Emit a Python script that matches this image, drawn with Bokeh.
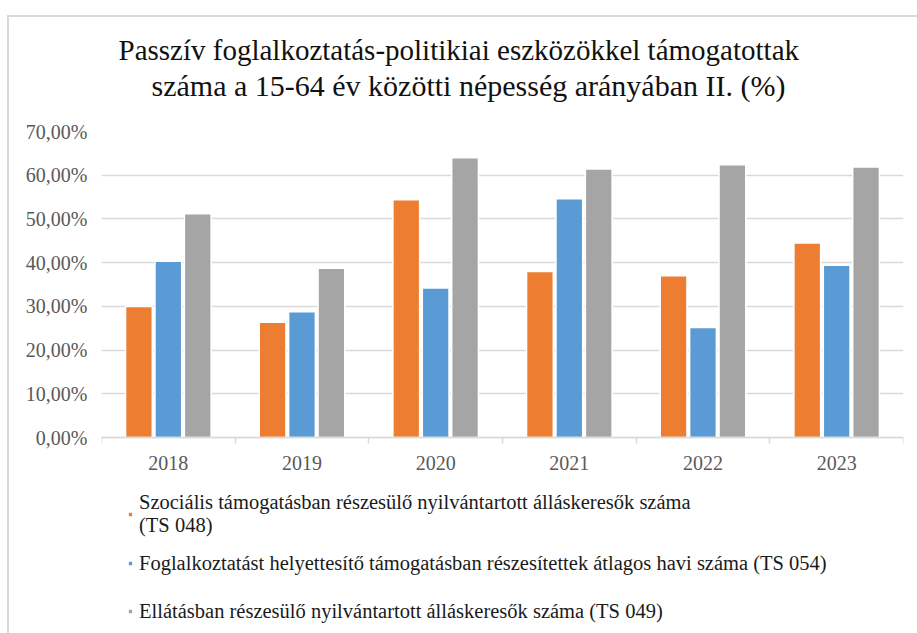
from bokeh.plotting import figure
from bokeh.models import ColumnDataSource, FixedTicker, Legend, LegendItem, Range1d, Title
from bokeh.transform import dodge
from bokeh.embed import file_html
from bokeh.resources import INLINE
import numpy as np

years = ["2018", "2019", "2020", "2021", "2022", "2023"]
szocialis = [30.0, 26.4, 54.4, 38.0, 37.0, 44.5]
foglalkoztatast = [40.3, 28.8, 34.2, 54.6, 25.2, 39.4]
ellatas = [51.2, 38.7, 64.0, 61.4, 62.4, 61.9]
y_ticks = [0, 10, 20, 30, 40, 50, 60, 70]
y_tick_labels = ["0,00%", "10,00%", "20,00%", "30,00%", "40,00%", "50,00%", "60,00%", "70,00%"]
series_names = [
    "Szociális támogatásban részesülő nyilvántartott álláskeresők száma\n(TS 048)",
    "Foglalkoztatást helyettesítő támogatásban részesítettek átlagos havi száma (TS 054)",
    "Ellátásban részesülő nyilvántartott álláskeresők száma (TS 049)",
]
title_lines = ["Passzív foglalkoztatás-politikiai  eszközökkel támogatottak",
               "száma a 15-64 év közötti népesség  arányában II. (%)"]
colors = ["#ED7D31", "#5B9BD5", "#A5A5A5"]

idx = np.arange(len(years))
src = ColumnDataSource(dict(x=idx, a=szocialis, b=foglalkoztatast, c=ellatas))

SERIF = "Liberation Serif"

# frame spans down to the bottom of the canvas so the legend (drawn in the
# frame) is not clipped; the x axis is pinned at y = 0.
p = figure(width=917, height=633, output_backend="svg", toolbar_location=None,
           x_range=Range1d(-0.5, len(years) - 0.5), y_range=Range1d(-44.8, 70),
           min_border_left=101, min_border_right=14, min_border_top=131, min_border_bottom=0)

# outer chart border (like the Excel chart area)
p.border_fill_alpha = 0
p.styles = {
    "background-color": "white",
    "background-image": "linear-gradient(#d9d9d9, #d9d9d9), linear-gradient(#d9d9d9, #d9d9d9)",
    "background-repeat": "no-repeat",
    "background-size": "100% 2px, 2px 100%",
    "background-position": "7px 15px, 7px 15px",
}

# title: two lines (p.title is the outer one, the added Title sits next to the frame)
p.title.text = title_lines[0]
p.title.align = "left"
p.title.offset = 17
p.title.text_font = SERIF
p.title.text_font_size = "29px"
p.title.text_font_style = "normal"
p.title.text_color = "#111111"
p.title.standoff = -58
t2 = Title(text=title_lines[1], align="left", offset=50, text_font=SERIF, text_font_size="30px",
           text_font_style="normal", text_color="#111111", standoff=60)
p.add_layout(t2, "above")

offsets = [-0.22, 0.0, 0.22]
renderers = []
for col, off, colr in zip(["a", "b", "c"], offsets, colors):
    r = p.vbar(x=dodge("x", off), top=col, width=0.2, bottom=0,
               source=src, fill_color=colr, line_color="white", line_width=1.5)
    renderers.append(r)

p.outline_line_color = None
p.background_fill_color = "white"

# y axis
p.yaxis.ticker = FixedTicker(ticks=y_ticks)
p.yaxis.major_label_overrides = {t: l for t, l in zip(y_ticks, y_tick_labels)}
p.yaxis.axis_line_color = None
p.yaxis.major_tick_line_color = None
p.yaxis.major_tick_out = 0
p.yaxis.major_tick_in = 0
p.yaxis.minor_tick_line_color = None
p.yaxis.major_label_text_font = SERIF
p.yaxis.major_label_text_font_size = "20px"
p.yaxis.major_label_text_color = "#595959"
p.yaxis.major_label_standoff = 14

# x axis, pinned at y = 0
p.xaxis.fixed_location = 0
p.xaxis.ticker = FixedTicker(ticks=list(idx), minor_ticks=list(np.arange(len(years) + 1) - 0.5))
p.xaxis.major_label_overrides = {int(i): y for i, y in zip(idx, years)}
p.xaxis.axis_line_color = "#d9d9d9"
p.xaxis.axis_line_width = 1.5
p.xaxis.major_tick_line_color = None
p.xaxis.major_tick_out = 0
p.xaxis.major_tick_in = 0
p.xaxis.minor_tick_line_color = "#d9d9d9"
p.xaxis.minor_tick_line_width = 1.5
p.xaxis.minor_tick_out = 6
p.xaxis.minor_tick_in = 0
p.xaxis.major_label_text_font = SERIF
p.xaxis.major_label_text_font_size = "20px"
p.xaxis.major_label_text_color = "#595959"
p.xaxis.major_label_standoff = 12

p.xgrid.grid_line_color = None
p.ygrid.ticker = FixedTicker(ticks=y_ticks)
p.ygrid.grid_line_color = "#d9d9d9"
p.ygrid.grid_line_width = 1.5

legend = Legend(items=[LegendItem(label=n, renderers=[r]) for n, r in zip(series_names, renderers)],
                location=(26, 0), orientation="vertical")
legend.label_text_font = SERIF
legend.label_text_font_size = "20.5px"
legend.label_text_line_height = 1.0
legend.label_text_color = "#1a1a1a"
legend.glyph_width = 6
legend.glyph_height = 6
legend.label_standoff = 6
legend.label_height = 44
legend.spacing = 4
legend.padding = 0
legend.margin = 0
legend.border_line_color = None
legend.background_fill_alpha = 0
p.add_layout(legend, "center")

open("out.html", "w").write(file_html(p, INLINE))
